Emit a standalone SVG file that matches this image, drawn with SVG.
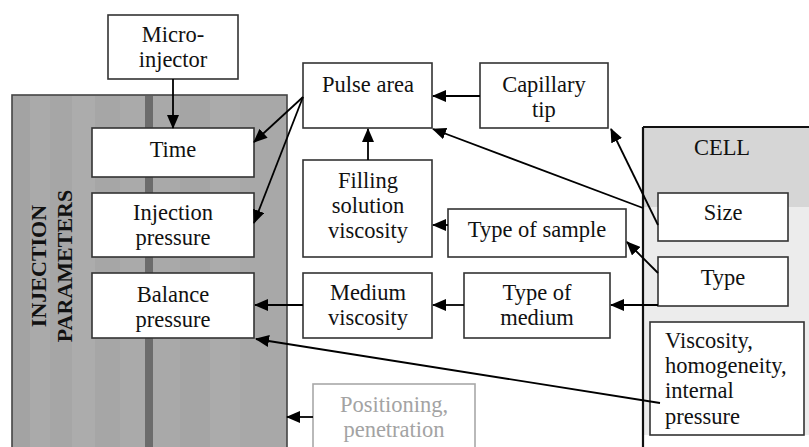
<svg xmlns="http://www.w3.org/2000/svg" width="809" height="447" viewBox="0 0 809 447">
<defs>
<marker id="ah" markerUnits="userSpaceOnUse" markerWidth="14" markerHeight="12" viewBox="0 0 14 12" refX="13" refY="6" orient="auto">
<path d="M0,0 L14,6 L0,12 Z" fill="#000"/>
</marker>
</defs>
<style>
.box{fill:#fff;stroke:#333;stroke-width:1.6}
text{font-family:'Liberation Serif','Times New Roman','DejaVu Serif',serif;font-size:22.5px}
.t{fill:#111;text-anchor:middle}
.tl{text-anchor:start}
.gray{fill:#a3a3a3}
.ln{stroke:#000;stroke-width:1.8;fill:none;marker-end:url(#ah)}
.ttl{font-weight:bold;fill:#111;text-anchor:middle;font-size:22px}
</style>
<rect width="809" height="447" fill="#fff"/>

<g id="injection-parameters">
<rect x="12" y="95" width="275" height="360" fill="#a8a8a8"/>
<rect x="12" y="96" width="18" height="360" fill="#a3a3a3"/>
<rect x="30" y="96" width="20" height="360" fill="#aaaaaa"/>
<rect x="50" y="96" width="22" height="360" fill="#a6a6a6"/>
<rect x="72" y="96" width="23" height="360" fill="#acacac"/>
<rect x="95" y="96" width="25" height="360" fill="#a6a6a6"/>
<rect x="120" y="96" width="25" height="360" fill="#aaaaaa"/>
<rect x="145" y="96" width="8" height="360" fill="#6c6c6c"/>
<rect x="153" y="96" width="27" height="360" fill="#a9a9a9"/>
<rect x="180" y="96" width="30" height="360" fill="#a5a5a5"/>
<rect x="210" y="96" width="30" height="360" fill="#ababab"/>
<rect x="12" y="95" width="275" height="360" fill="none" stroke="#444" stroke-width="1.6"/>
<text class="ttl" transform="translate(46,266) rotate(-90)">INJECTION</text>
<text class="ttl" transform="translate(72,266) rotate(-90)">PARAMETERS</text>
</g>

<g id="cell">
<rect x="643" y="128" width="170" height="79" fill="#d6d6d6"/>
<rect x="643" y="207" width="170" height="228" fill="#ececec"/>
<line x1="643" y1="127" x2="809" y2="127" stroke="#111" stroke-width="2.2"/>
<line x1="643" y1="127" x2="643" y2="447" stroke="#111" stroke-width="2.2"/>
<text class="t" x="722" y="155">CELL</text>
</g>

<g id="micro-injector">
<rect class="box" x="108" y="15" width="130" height="64"/>
<text class="t" x="173" y="42">Micro-</text>
<text class="t" x="173" y="67">injector</text>
</g>

<g id="time">
<rect class="box" x="92" y="128" width="162" height="49"/>
<text class="t" x="173" y="157">Time</text>
</g>

<g id="injection-pressure">
<rect class="box" x="92" y="193" width="162" height="64"/>
<text class="t" x="173" y="220">Injection</text>
<text class="t" x="173" y="245">pressure</text>
</g>

<g id="balance-pressure">
<rect class="box" x="92" y="273" width="162" height="65"/>
<text class="t" x="173" y="302">Balance</text>
<text class="t" x="173" y="327">pressure</text>
</g>

<g id="pulse-area">
<rect class="box" x="303" y="63" width="129" height="65"/>
<text class="t" x="368" y="92">Pulse area</text>
</g>

<g id="capillary-tip">
<rect class="box" x="480" y="63" width="128" height="65"/>
<text class="t" x="544" y="92">Capillary</text>
<text class="t" x="544" y="117">tip</text>
</g>

<g id="filling-solution-viscosity">
<rect class="box" x="303" y="160" width="129" height="97"/>
<text class="t" x="368" y="188">Filling</text>
<text class="t" x="368" y="213">solution</text>
<text class="t" x="368" y="238">viscosity</text>
</g>

<g id="type-of-sample">
<rect class="box" x="448" y="209" width="178" height="48"/>
<text class="t" x="537" y="237">Type of sample</text>
</g>

<g id="medium-viscosity">
<rect class="box" x="303" y="273" width="129" height="65"/>
<text class="t" x="368" y="300">Medium</text>
<text class="t" x="368" y="325">viscosity</text>
</g>

<g id="type-of-medium">
<rect class="box" x="464" y="273" width="146" height="65"/>
<text class="t" x="537" y="300">Type of</text>
<text class="t" x="537" y="325">medium</text>
</g>

<g id="positioning">
<rect x="313" y="384" width="162" height="70" fill="#fff" stroke="#a8a8a8" stroke-width="1.6"/>
<text class="t gray" x="394" y="412">Positioning,</text>
<text class="t gray" x="394" y="437">penetration</text>
</g>

<g id="size">
<rect class="box" x="658" y="193" width="130" height="48"/>
<text class="t" x="723" y="220">Size</text>
</g>

<g id="type">
<rect class="box" x="658" y="257" width="130" height="49"/>
<text class="t" x="723" y="285">Type</text>
</g>

<g id="viscosity">
<rect class="box" x="650" y="322" width="154" height="113"/>
<text class="t tl" x="665" y="348">Viscosity,</text>
<text class="t tl" x="665" y="373">homogeneity,</text>
<text class="t tl" x="665" y="398">internal</text>
<text class="t tl" x="665" y="424">pressure</text>
</g>

<g id="connectors">
<line class="ln" x1="173" y1="79" x2="173" y2="128"/>
<line class="ln" x1="303" y1="97" x2="254" y2="142"/>
<line class="ln" x1="303" y1="97" x2="254" y2="223"/>
<line class="ln" x1="480" y1="96" x2="433" y2="96"/>
<line class="ln" x1="368" y1="160" x2="368" y2="129"/>
<line class="ln" x1="448" y1="225" x2="433" y2="225"/>
<line class="ln" x1="303" y1="305" x2="255" y2="305"/>
<line class="ln" x1="464" y1="305" x2="433" y2="305"/>
<line class="ln" x1="658" y1="305" x2="611" y2="305"/>
<line class="ln" x1="658" y1="273" x2="627" y2="242"/>
<line class="ln" x1="658" y1="225" x2="611" y2="129"/>
<line class="ln" x1="643" y1="208" x2="433" y2="129"/>
<line class="ln" x1="660" y1="403" x2="256" y2="339"/>
<line class="ln" x1="313" y1="417" x2="287" y2="417"/>
</g>
</svg>
